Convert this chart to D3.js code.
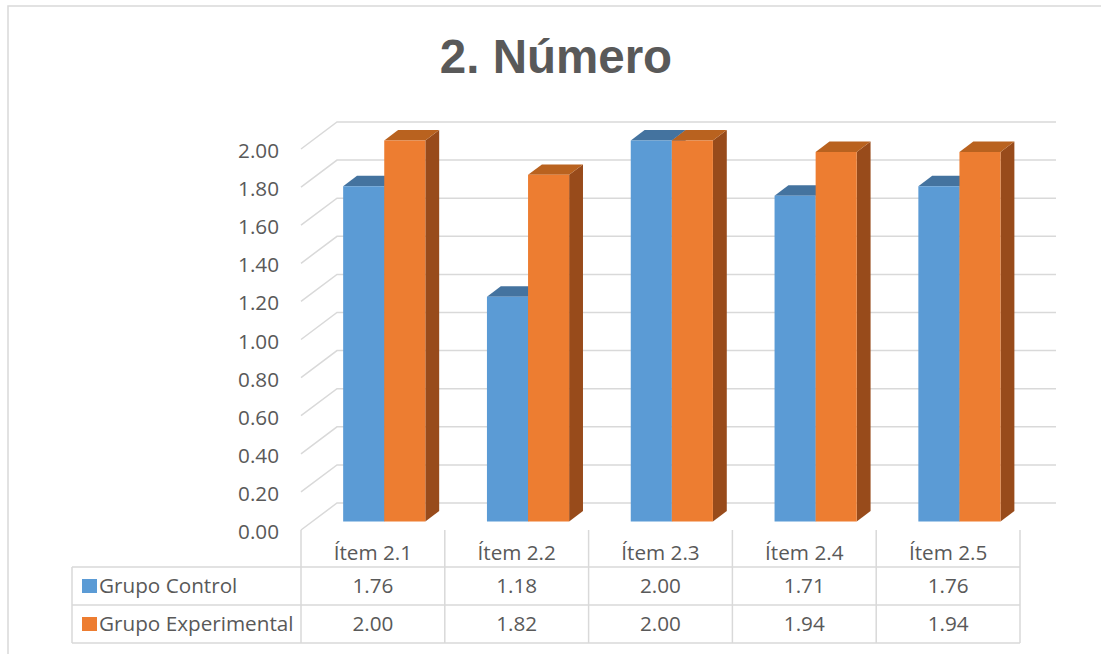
<!DOCTYPE html>
<html>
<head>
<meta charset="utf-8">
<script src="https://cdn.jsdelivr.net/npm/d3@7"></script>
<style>
  body { margin: 0; background: #fff; }
  text { font-family: "Open Sans", sans-serif; fill: #595959; }
</style>
</head>
<body>
<div id="chart"></div>
<script>
const categories = ['Ítem 2.1', 'Ítem 2.2', 'Ítem 2.3', 'Ítem 2.4', 'Ítem 2.5'];
const seriesNames = ['Grupo Control', 'Grupo Experimental'];
const control = [1.76, 1.18, 2.00, 1.71, 1.76];
const experimental = [2.00, 1.82, 2.00, 1.94, 1.94];
const yTicks = [0, 0.2, 0.4, 0.6, 0.8, 1.0, 1.2, 1.4, 1.6, 1.8, 2.0];

const width = 1101, height = 654;
const colors = {
  'Grupo Control': { front: '#5b9bd5', top: '#44739f', side: '#41719c' },
  'Grupo Experimental': { front: '#ed7d31', top: '#b9621f', side: '#984b1b' }
};
const grid = '#d9d9d9';
const fontSize = '20.7px';

// 3D depth of the plot box
const depthX = 36, depthY = 27;
const z0 = 0.315, z1 = 0.70;

const svg = d3.select('#chart').append('svg')
  .attr('width', width)
  .attr('height', height);

// chart border
svg.append('rect')
  .attr('x', 8).attr('y', 6)
  .attr('width', 1110).attr('height', 680)
  .attr('fill', 'none')
  .attr('stroke', grid)
  .attr('stroke-width', 1.5);

svg.append('text')
  .attr('x', 556).attr('y', 73)
  .attr('text-anchor', 'middle')
  .style('font-family', '"Liberation Sans", Arial, sans-serif')
  .style('font-weight', 'bold')
  .style('font-size', '47.5px')
  .text('2. Número');

const x = d3.scaleBand().domain(categories).range([301, 1020]);
const y = d3.scaleLinear().domain([0, 2]).range([530, 149]);
const barW = x.bandwidth() / 3.5;
const inner = d3.scaleBand().domain(seriesNames)
  .range([0.75 * barW, 2.75 * barW]);

const proj = (xf, v, z) => [xf + z * depthX, y(v) - z * depthY];

// gridlines: left wall diagonal + back wall
const gridG = svg.append('g')
  .attr('stroke', grid)
  .attr('stroke-width', 1.5)
  .attr('fill', 'none');

const x0 = x.range()[0], xEnd = x.range()[1];
yTicks.forEach(t => {
  const a = proj(x0, t, 0), b = proj(x0, t, 1), c = proj(xEnd, t, 1);
  gridG.append('path').attr('d', d3.line()([a, b, c]));
});

// y labels
svg.append('g').selectAll('text')
  .data(yTicks)
  .enter().append('text')
  .attr('x', 279)
  .attr('y', d => y(d) + 9)
  .attr('text-anchor', 'end')
  .style('font-size', fontSize)
  .text(d => d.toFixed(2));

// bars
const bars = [];
categories.forEach((c, i) => {
  bars.push({ cat: c, s: seriesNames[0], v: control[i] });
  bars.push({ cat: c, s: seriesNames[1], v: experimental[i] });
});

const poly = pts => 'M' + pts.map(p => p.join(',')).join('L') + 'Z';

const barG = svg.append('g').selectAll('g')
  .data(bars)
  .enter().append('g');

barG.each(function(d) {
  const g = d3.select(this);
  const l = x(d.cat) + inner(d.s);
  const r = l + inner.bandwidth();
  const col = colors[d.s];
  // right side
  g.append('path')
    .attr('d', poly([proj(r, 0, z0), proj(r, 0, z1), proj(r, d.v, z1), proj(r, d.v, z0)]))
    .attr('fill', col.side);
  // top
  g.append('path')
    .attr('d', poly([proj(l, d.v, z0), proj(r, d.v, z0), proj(r, d.v, z1), proj(l, d.v, z1)]))
    .attr('fill', col.top);
  // front
  g.append('path')
    .attr('d', poly([proj(l, 0, z0), proj(r, 0, z0), proj(r, d.v, z0), proj(l, d.v, z0)]))
    .attr('fill', col.front);
});

// data table
const rowTop = 567, rowH = 38;
const tableG = svg.append('g')
  .attr('stroke', grid)
  .attr('stroke-width', 1.5);

[0, 1, 2].forEach(k => {
  tableG.append('line')
    .attr('x1', 72).attr('x2', xEnd)
    .attr('y1', rowTop + k * rowH).attr('y2', rowTop + k * rowH);
});
tableG.append('line')
  .attr('x1', 72).attr('x2', 72)
  .attr('y1', rowTop).attr('y2', rowTop + 2 * rowH);
categories.concat([null]).forEach((c, i) => {
  const xv = c ? x(c) : xEnd;
  tableG.append('line')
    .attr('x1', xv).attr('x2', xv)
    .attr('y1', 530).attr('y2', rowTop + 2 * rowH);
});

svg.append('g').selectAll('text')
  .data(categories)
  .enter().append('text')
  .attr('x', d => x(d) + x.bandwidth() / 2)
  .attr('y', 560)
  .attr('text-anchor', 'middle')
  .style('font-size', fontSize)
  .text(d => d);

[control, experimental].forEach((vals, k) => {
  const cy = rowTop + k * rowH + rowH / 2;
  svg.append('rect')
    .attr('x', 82).attr('y', cy - 7)
    .attr('width', 15).attr('height', 14)
    .attr('fill', colors[seriesNames[k]].front);
  svg.append('text')
    .attr('x', 99).attr('y', cy + 7)
    .style('font-size', fontSize)
    .text(seriesNames[k]);
  svg.append('g').selectAll('text')
    .data(vals)
    .enter().append('text')
    .attr('x', (d, i) => x(categories[i]) + x.bandwidth() / 2)
    .attr('y', cy + 7)
    .attr('text-anchor', 'middle')
    .style('font-size', fontSize)
    .text(d => d.toFixed(2));
});
</script>
</body>
</html>
